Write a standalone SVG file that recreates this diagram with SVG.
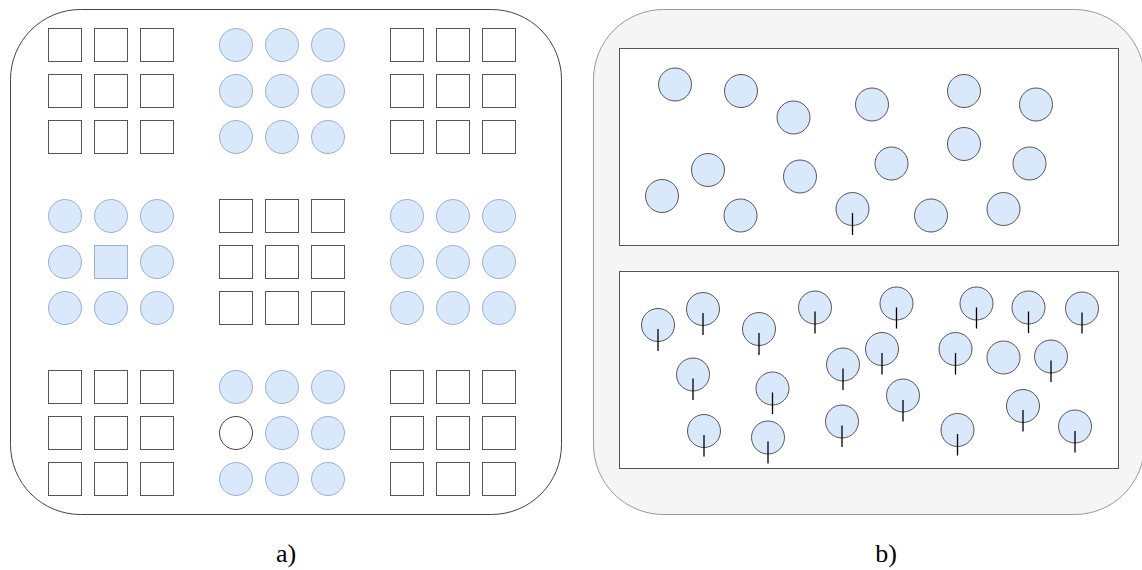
<svg xmlns="http://www.w3.org/2000/svg" width="1142" height="570" viewBox="0 0 1142 570">
<style>
.panelA{fill:#fff;stroke:#444;stroke-width:1}
.panelB{fill:#f5f5f5;stroke:#999;stroke-width:1}
.box{fill:#fff;stroke:#555;stroke-width:1}
.sq{fill:#fff;stroke:#555;stroke-width:1}
.ca{fill:#dae8fc;stroke:#6c8ebf;stroke-opacity:0.65;stroke-width:1}
.sa{fill:#dae8fc;stroke:#6c8ebf;stroke-opacity:0.65;stroke-width:1}
.cw{fill:#fff;stroke:#444;stroke-width:1}
.cb{fill:#dae8fc;stroke:#555;stroke-width:1}
.tick{stroke:#000;stroke-width:1.3}
.lbl{font-family:"Liberation Serif","Times New Roman",serif;font-size:26px;fill:#000;text-anchor:middle}
</style>
<defs>
<rect id="s" width="33" height="33" class="sq"/>
<circle id="c" r="16.5" class="ca"/>
<g id="sqgrid">
<use href="#s" x="0" y="0"/><use href="#s" x="46" y="0"/><use href="#s" x="92" y="0"/>
<use href="#s" x="0" y="46"/><use href="#s" x="46" y="46"/><use href="#s" x="92" y="46"/>
<use href="#s" x="0" y="92"/><use href="#s" x="46" y="92"/><use href="#s" x="92" y="92"/>
</g>
<g id="cgrid">
<use href="#c" x="16.5" y="16.5"/><use href="#c" x="62.5" y="16.5"/><use href="#c" x="108.5" y="16.5"/>
<use href="#c" x="16.5" y="62.5"/><use href="#c" x="62.5" y="62.5"/><use href="#c" x="108.5" y="62.5"/>
<use href="#c" x="16.5" y="108.5"/><use href="#c" x="62.5" y="108.5"/><use href="#c" x="108.5" y="108.5"/>
</g>
</defs>

<g id="panel-a">
<rect x="10.5" y="9.5" width="551" height="505" rx="70" ry="70" class="panelA"/>
<g id="a-g11"><use href="#sqgrid" x="48.5" y="28.5"/></g>
<g id="a-g12"><use href="#cgrid" x="219.5" y="28.5"/></g>
<g id="a-g13"><use href="#sqgrid" x="390.5" y="28.5"/></g>
<g id="a-g21">
<use href="#c" x="65" y="216"/><use href="#c" x="111" y="216"/><use href="#c" x="157" y="216"/>
<use href="#c" x="65" y="262"/><rect x="94.5" y="245.5" width="33" height="33" class="sa"/><use href="#c" x="157" y="262"/>
<use href="#c" x="65" y="308"/><use href="#c" x="111" y="308"/><use href="#c" x="157" y="308"/>
</g>
<g id="a-g22"><use href="#sqgrid" x="219.5" y="199.5"/></g>
<g id="a-g23"><use href="#cgrid" x="390.5" y="199.5"/></g>
<g id="a-g31"><use href="#sqgrid" x="48.5" y="370.5"/></g>
<g id="a-g32">
<use href="#c" x="236" y="387"/><use href="#c" x="282" y="387"/><use href="#c" x="328" y="387"/>
<circle cx="236" cy="433" r="16.5" class="cw"/><use href="#c" x="282" y="433"/><use href="#c" x="328" y="433"/>
<use href="#c" x="236" y="479"/><use href="#c" x="282" y="479"/><use href="#c" x="328" y="479"/>
</g>
<g id="a-g33"><use href="#sqgrid" x="390.5" y="370.5"/></g>
<text x="286" y="562" class="lbl">a)</text>
</g>

<g id="panel-b">
<rect x="593.5" y="9.5" width="551" height="505" rx="70" ry="70" class="panelB"/>
<g id="b-top">
<rect x="619.5" y="48.5" width="499" height="197" class="box"/>
<circle cx="675" cy="84.5" r="16.5" class="cb"/>
<circle cx="741" cy="91" r="16.5" class="cb"/>
<circle cx="793.5" cy="117.5" r="16.5" class="cb"/>
<circle cx="872" cy="104.5" r="16.5" class="cb"/>
<circle cx="964" cy="91" r="16.5" class="cb"/>
<circle cx="1036" cy="104.5" r="16.5" class="cb"/>
<circle cx="708" cy="170" r="16.5" class="cb"/>
<circle cx="800" cy="176.5" r="16.5" class="cb"/>
<circle cx="891.5" cy="163.5" r="16.5" class="cb"/>
<circle cx="964" cy="144" r="16.5" class="cb"/>
<circle cx="1029.5" cy="163.5" r="16.5" class="cb"/>
<circle cx="662" cy="196" r="16.5" class="cb"/>
<circle cx="740.5" cy="215.5" r="16.5" class="cb"/>
<circle cx="852.5" cy="209" r="16.5" class="cb"/>
<circle cx="931" cy="215.5" r="16.5" class="cb"/>
<circle cx="1003.5" cy="209" r="16.5" class="cb"/>
<line x1="852.5" y1="213" x2="852.5" y2="235" class="tick"/>
</g>
<g id="b-bottom">
<rect x="619.5" y="271.5" width="499" height="197" class="box"/>
<circle cx="658" cy="325" r="16.5" class="cb"/><line x1="658" y1="329" x2="658" y2="351" class="tick"/>
<circle cx="703" cy="309" r="16.5" class="cb"/><line x1="703" y1="313" x2="703" y2="335" class="tick"/>
<circle cx="759" cy="329" r="16.5" class="cb"/><line x1="759" y1="333" x2="759" y2="355" class="tick"/>
<circle cx="815" cy="307.5" r="16.5" class="cb"/><line x1="815" y1="311.5" x2="815" y2="333.5" class="tick"/>
<circle cx="896.5" cy="303.5" r="16.5" class="cb"/><line x1="896.5" y1="307.5" x2="896.5" y2="328.5" class="tick"/>
<circle cx="976.5" cy="303.5" r="16.5" class="cb"/><line x1="976.5" y1="307.5" x2="976.5" y2="328.5" class="tick"/>
<circle cx="1028.5" cy="307.5" r="16.5" class="cb"/><line x1="1028.5" y1="311.5" x2="1028.5" y2="333" class="tick"/>
<circle cx="1082" cy="308.5" r="16.5" class="cb"/><line x1="1082" y1="312.5" x2="1082" y2="333.5" class="tick"/>
<circle cx="693" cy="374.5" r="16.5" class="cb"/><line x1="693" y1="378.5" x2="693" y2="400" class="tick"/>
<circle cx="772.5" cy="388.5" r="16.5" class="cb"/><line x1="772.5" y1="392.5" x2="772.5" y2="414" class="tick"/>
<circle cx="843" cy="364.5" r="16.5" class="cb"/><line x1="843" y1="368.5" x2="843" y2="390" class="tick"/>
<circle cx="882" cy="349" r="16.5" class="cb"/><line x1="882" y1="353" x2="882" y2="374.5" class="tick"/>
<circle cx="955.5" cy="349" r="16.5" class="cb"/><line x1="955.5" y1="353" x2="955.5" y2="374.5" class="tick"/>
<circle cx="1003.5" cy="357.5" r="16.5" class="cb"/>
<circle cx="1051" cy="356.5" r="16.5" class="cb"/><line x1="1051" y1="360.5" x2="1051" y2="382" class="tick"/>
<circle cx="704" cy="431" r="16.5" class="cb"/><line x1="704" y1="435" x2="704" y2="456.5" class="tick"/>
<circle cx="768" cy="437.5" r="16.5" class="cb"/><line x1="768" y1="441.5" x2="768" y2="463.5" class="tick"/>
<circle cx="842" cy="421.5" r="16.5" class="cb"/><line x1="842" y1="425.5" x2="842" y2="447" class="tick"/>
<circle cx="903" cy="395.5" r="16.5" class="cb"/><line x1="903" y1="400" x2="903" y2="421.5" class="tick"/>
<circle cx="957.5" cy="430" r="16.5" class="cb"/><line x1="957.5" y1="434" x2="957.5" y2="455.5" class="tick"/>
<circle cx="1023" cy="406" r="16.5" class="cb"/><line x1="1023" y1="410" x2="1023" y2="431.5" class="tick"/>
<circle cx="1075" cy="426.5" r="16.5" class="cb"/><line x1="1075" y1="431" x2="1075" y2="452.5" class="tick"/>
</g>
<text x="886" y="562" class="lbl">b)</text>
</g>
</svg>
